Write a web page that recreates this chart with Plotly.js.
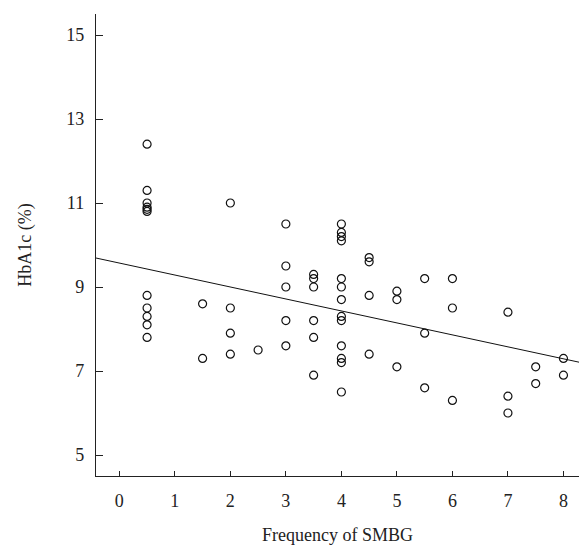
<!DOCTYPE html>
<html>
<head>
<meta charset="utf-8">
<script src="https://cdn.plot.ly/plotly-3.0.1.min.js"></script>
<style>html,body{margin:0;padding:0;background:#fff;}#chart{width:579px;height:560px;}</style>
</head>
<body>
<div id="chart"></div>
<script>
// Frequency of SMBG (x) and HbA1c % (y)
var smbgFreq = [
  0.5,0.5,0.5,0.5,0.5,0.5,0.5,0.5,0.5,0.5,0.5,
  1.5,1.5,
  2,2,2,2,
  2.5,
  3,3,3,3,3,
  3.5,3.5,3.5,3.5,3.5,3.5,
  4,4,4,4,4,4,4,4,4,4,4,4,4,
  4.5,4.5,4.5,4.5,
  5,5,5,
  5.5,5.5,5.5,
  6,6,6,
  7,7,7,
  7.5,7.5,
  8,8
];
var hba1c = [
  12.4,11.3,11.0,10.9,10.85,10.8,8.8,8.5,8.3,8.1,7.8,
  8.6,7.3,
  11.0,8.5,7.9,7.4,
  7.5,
  10.5,9.5,9.0,8.2,7.6,
  9.3,9.2,9.0,8.2,7.8,6.9,
  10.5,10.3,10.2,10.1,9.2,9.0,8.7,8.3,8.2,7.6,7.3,7.2,6.5,
  9.7,9.6,8.8,7.4,
  8.9,8.7,7.1,
  9.2,7.9,6.6,
  9.2,8.5,6.3,
  8.4,6.4,6.0,
  7.1,6.7,
  7.3,6.9
];
// Fitted regression line endpoints (x range of the axis)
var fitX = [-0.42, 8.28];
var fitY = [9.69, 7.21];

var xTicks = [0,1,2,3,4,5,6,7,8];
var yTicks = [5,7,9,11,13,15];

var traces = [
  {
    type: 'scatter', mode: 'lines', x: fitX, y: fitY,
    line: {color: '#111', width: 1}, hoverinfo: 'skip', showlegend: false
  },
  {
    type: 'scatter', mode: 'markers', x: smbgFreq, y: hba1c,
    marker: {symbol: 'circle-open', size: 8, color: '#111', line: {width: 1.2, color: '#111'}},
    showlegend: false
  }
];

var fontFam = '"Liberation Serif", "Times New Roman", serif';
var layout = {
  width: 579, height: 560,
  margin: {l: 96, r: 0, t: 14, b: 84},
  paper_bgcolor: '#fff', plot_bgcolor: '#fff',
  font: {family: fontFam, size: 18, color: '#222'},
  showlegend: false,
  xaxis: {
    range: [-0.42, 8.28],
    tickvals: xTicks, ticktext: xTicks.map(String),
    ticks: 'inside', ticklen: 5, tickwidth: 1, tickcolor: '#222',
    showline: true, linecolor: '#222', linewidth: 1.2,
    showgrid: false, zeroline: false,
    ticklabelstandoff: 8,
    title: {text: 'Frequency of SMBG', font: {family: fontFam, size: 18, color: '#222'}, standoff: 18},
    automargin: false
  },
  yaxis: {
    range: [4.5, 15.5],
    tickvals: yTicks, ticktext: yTicks.map(String),
    ticks: 'inside', ticklen: 7, tickwidth: 1, tickcolor: '#222',
    showline: true, linecolor: '#222', linewidth: 1.2,
    showgrid: false, zeroline: false,
    ticklabelstandoff: 7,
    title: {text: 'HbA1c (%)', font: {family: fontFam, size: 18, color: '#222'}, standoff: 30},
    automargin: false
  }
};

Plotly.newPlot('chart', traces, layout, {displayModeBar: false, staticPlot: true});
</script>
</body>
</html>
